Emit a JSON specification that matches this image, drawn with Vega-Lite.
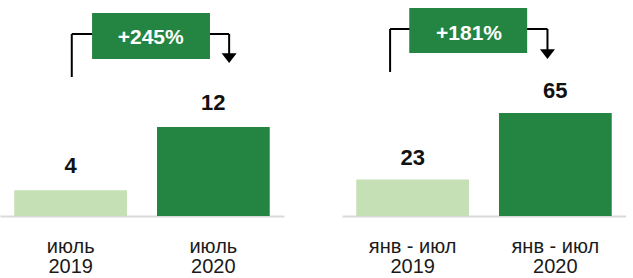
{
  "$schema": "https://vega.github.io/schema/vega-lite/v6.json",
  "padding": 0,
  "spacing": 58,
  "background": "white",
  "datasets": {
    "left": [
      {"period": "июль\n2019", "year": "2019", "value": 3.5, "label": "4"},
      {"period": "июль\n2020", "year": "2020", "value": 12.1, "label": "12"}
    ],
    "leftNote": [
      {"from": "июль\n2019", "to": "июль\n2020", "growth": "+245%"}
    ],
    "right": [
      {"period": "янв - июл\n2019", "year": "2019", "value": 23, "label": "23"},
      {"period": "янв - июл\n2020", "year": "2020", "value": 65, "label": "65"}
    ],
    "rightNote": [
      {"from": "янв - июл\n2019", "to": "янв - июл\n2020", "growth": "+181%"}
    ]
  },
  "hconcat": [
    {
      "width": 284,
      "height": 216,
      "layer": [
        {
          "data": {"name": "left"},
          "mark": {"type": "bar"},
          "encoding": {
            "x": {"field": "period", "type": "nominal", "sort": null, "title": null,
                  "scale": {"paddingInner": 0.21, "paddingOuter": 0.1},
                  "axis": {"labelExpr": "split(datum.label, '\\n')", "labelAngle": 0}},
            "y": {"field": "value", "type": "quantitative", "scale": {"domain": [0, 29.4], "nice": false}, "axis": null},
            "color": {"field": "year", "type": "nominal", "scale": {"domain": ["2019", "2020"], "range": ["#c5e0b4", "#248441"]}, "legend": null}
          }
        },
        {
          "data": {"name": "left"},
          "mark": {"type": "text", "baseline": "alphabetic", "dy": -17, "fontSize": 22, "fontWeight": "bold", "font": "Liberation Sans", "color": "#111111"},
          "encoding": {
            "x": {"field": "period", "type": "nominal", "sort": null},
            "y": {"field": "value", "type": "quantitative"},
            "text": {"field": "label"}
          }
        },
        {
          "data": {"name": "leftNote"},
          "mark": {"type": "rule", "strokeWidth": 2, "color": "#000000"},
          "encoding": {
            "x": {"field": "from", "type": "nominal", "bandPosition": 0.51},
            "y": {"datum": 24.77, "type": "quantitative"},
            "y2": {"datum": 18.92}
          }
        },
        {
          "data": {"name": "leftNote"},
          "mark": {"type": "rule", "strokeWidth": 2, "color": "#000000"},
          "encoding": {
            "x": {"field": "from", "type": "nominal", "bandPosition": 0.51},
            "x2": {"field": "to", "bandPosition": 0.64},
            "y": {"datum": 24.77, "type": "quantitative"}
          }
        },
        {
          "data": {"name": "leftNote"},
          "mark": {"type": "rule", "strokeWidth": 2, "color": "#000000"},
          "encoding": {
            "x": {"field": "to", "type": "nominal", "bandPosition": 0.64},
            "y": {"datum": 24.77, "type": "quantitative"},
            "y2": {"datum": 21.78}
          }
        },
        {
          "data": {"name": "leftNote"},
          "mark": {"type": "point", "shape": "M-1,-0.65L1,-0.65L0,0.65Z", "filled": true, "color": "#000000", "opacity": 1, "size": 225},
          "encoding": {
            "x": {"field": "to", "type": "nominal", "bandPosition": 0.64},
            "y": {"datum": 21.5, "type": "quantitative"}
          }
        },
        {
          "data": {"name": "leftNote"},
          "mark": {"type": "rect", "color": "#248441"},
          "encoding": {
            "x": {"field": "from", "type": "nominal", "bandPosition": 0.69},
            "x2": {"field": "to", "bandPosition": 0.47},
            "y": {"datum": 27.63, "type": "quantitative"},
            "y2": {"datum": 21.37}
          }
        },
        {
          "data": {"name": "leftNote"},
          "mark": {"type": "text", "baseline": "middle", "fontSize": 21, "fontWeight": "bold", "font": "Liberation Sans", "color": "#ffffff"},
          "encoding": {
            "x": {"field": "from", "type": "nominal", "bandPosition": 1.21},
            "y": {"datum": 24.16, "type": "quantitative"},
            "text": {"field": "growth"}
          }
        }
      ]
    },
    {
      "width": 284,
      "height": 216,
      "layer": [
        {
          "data": {"name": "right"},
          "mark": {"type": "bar"},
          "encoding": {
            "x": {"field": "period", "type": "nominal", "sort": null, "title": null,
                  "scale": {"paddingInner": 0.21, "paddingOuter": 0.1},
                  "axis": {"labelExpr": "split(datum.label, '\\n')", "labelAngle": 0}},
            "y": {"field": "value", "type": "quantitative", "scale": {"domain": [0, 136.3], "nice": false}, "axis": null},
            "color": {"field": "year", "type": "nominal", "scale": {"domain": ["2019", "2020"], "range": ["#c5e0b4", "#248441"]}, "legend": null}
          }
        },
        {
          "data": {"name": "right"},
          "mark": {"type": "text", "baseline": "alphabetic", "dy": -15, "fontSize": 22, "fontWeight": "bold", "font": "Liberation Sans", "color": "#111111"},
          "encoding": {
            "x": {"field": "period", "type": "nominal", "sort": null},
            "y": {"field": "value", "type": "quantitative"},
            "text": {"field": "label"}
          }
        },
        {
          "data": {"name": "rightNote"},
          "mark": {"type": "rule", "strokeWidth": 2, "color": "#000000"},
          "encoding": {
            "x": {"field": "from", "type": "nominal", "bandPosition": 0.30},
            "y": {"datum": 118.0, "type": "quantitative"},
            "y2": {"datum": 90.9}
          }
        },
        {
          "data": {"name": "rightNote"},
          "mark": {"type": "rule", "strokeWidth": 2, "color": "#000000"},
          "encoding": {
            "x": {"field": "from", "type": "nominal", "bandPosition": 0.30},
            "x2": {"field": "to", "bandPosition": 0.43},
            "y": {"datum": 118.0, "type": "quantitative"}
          }
        },
        {
          "data": {"name": "rightNote"},
          "mark": {"type": "rule", "strokeWidth": 2, "color": "#000000"},
          "encoding": {
            "x": {"field": "to", "type": "nominal", "bandPosition": 0.43},
            "y": {"datum": 118.0, "type": "quantitative"},
            "y2": {"datum": 104.1}
          }
        },
        {
          "data": {"name": "rightNote"},
          "mark": {"type": "point", "shape": "M-1,-0.65L1,-0.65L0,0.65Z", "filled": true, "color": "#000000", "opacity": 1, "size": 225},
          "encoding": {
            "x": {"field": "to", "type": "nominal", "bandPosition": 0.43},
            "y": {"datum": 102.2, "type": "quantitative"}
          }
        },
        {
          "data": {"name": "rightNote"},
          "mark": {"type": "rect", "color": "#248441"},
          "encoding": {
            "x": {"field": "from", "type": "nominal", "bandPosition": 0.47},
            "x2": {"field": "to", "bandPosition": 0.25},
            "y": {"datum": 131.2, "type": "quantitative"},
            "y2": {"datum": 102.9}
          }
        },
        {
          "data": {"name": "rightNote"},
          "mark": {"type": "text", "baseline": "middle", "fontSize": 21, "fontWeight": "bold", "font": "Liberation Sans", "color": "#ffffff"},
          "encoding": {
            "x": {"field": "from", "type": "nominal", "bandPosition": 1.0},
            "y": {"datum": 115.0, "type": "quantitative"},
            "text": {"field": "growth"}
          }
        }
      ]
    }
  ],
  "config": {
    "view": {"stroke": null},
    "concat": {"spacing": 58},
    "axis": {
      "labelFont": "Liberation Sans",
      "labelFontSize": 20,
      "labelColor": "#1a1a1a",
      "labelLineHeight": 20,
      "labelPadding": 20,
      "ticks": false,
      "tickSize": 0,
      "domainColor": "#d9d9d9",
      "domainWidth": 2,
      "grid": false
    }
  }
}
